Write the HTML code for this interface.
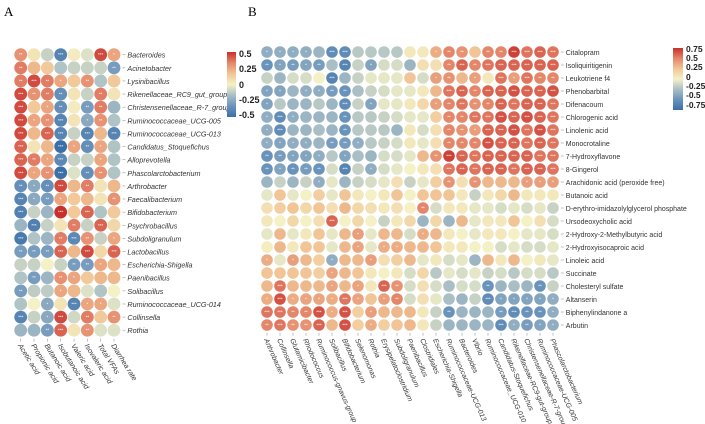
<!DOCTYPE html>
<html><head><meta charset="utf-8"><style>
body{margin:0;background:#fff;}
svg{display:block;font-family:"Liberation Sans",sans-serif;}
</style></head><body>
<svg id="chart" width="705" height="424" viewBox="0 0 705 424" xmlns="http://www.w3.org/2000/svg">
<defs>
<linearGradient id="cbar" x1="0" y1="0" x2="0" y2="1">
<stop offset="0" stop-color="#c9302c"/><stop offset="0.167" stop-color="#e4866a"/><stop offset="0.333" stop-color="#f1c596"/><stop offset="0.5" stop-color="#f4f1c6"/><stop offset="0.667" stop-color="#a9bec5"/><stop offset="0.833" stop-color="#6a93bb"/><stop offset="1" stop-color="#3b6fa8"/>
</linearGradient>
</defs>
<text x="4" y="16" font-size="13" font-family="Liberation Serif">A</text>
<text x="248" y="16" font-size="13" font-family="Liberation Serif">B</text>
<g id="panelA"></g>
<g id="panelB"></g>
<g>
<rect x="227" y="52" width="9" height="65" fill="url(#cbar)"/>
<g font-size="9" font-weight="bold" fill="#222">
<text x="239" y="57">0.5</text><text x="239" y="72">0.25</text><text x="239" y="88">0</text><text x="239" y="103">-0.25</text><text x="239" y="118">-0.5</text>
</g></g>
<g>
<rect x="673" y="48" width="10" height="62" fill="url(#cbar)"/>
<g font-size="8.5" font-weight="bold" fill="#222">
<text x="686" y="52">0.75</text><text x="686" y="61">0.5</text><text x="686" y="70">0.25</text><text x="686" y="80">0</text><text x="686" y="89">-0.25</text><text x="686" y="98">-0.5</text><text x="686" y="108">-0.75</text>
</g></g>
</svg>
<script>
const aRows=["Bacteroides","Acinetobacter","Lysinibacillus","Rikenellaceae_RC9_gut_group","Christensenellaceae_R-7_group","Ruminococcaceae_UCG-005","Ruminococcaceae_UCG-013","Candidatus_Stoquefichus","Alloprevotella","Phascolarctobacterium","Arthrobacter","Faecalibacterium","Bifidobacterium","Psychrobacillus","Subdoligranulum","Lactobacillus","Escherichia-Shigella","Paenibacillus","Solibacillus","Ruminococcaceae_UCG-014","Collinsella","Rothia"];
const aCols=["Acetic acid","Propionic acid","Butanoic acid","Isobutanoic acid","Valeric acid","Isovaleric acid","Total VFAs","Diarrhea rate"];
const aVals=[
[0.3,0.05,-0.1,-0.4,0.02,-0.05,0.45,0.25],
[0.35,0.2,0.15,-0.15,-0.1,-0.1,-0.1,-0.3],
[0.35,0.45,0.35,0.25,0.15,0.3,-0.15,0.15],
[0.45,0.3,0.35,-0.35,0.05,-0.1,0.35,0.05],
[0.45,0.15,0.25,-0.35,0.02,-0.3,0.35,-0.2],
[0.45,0.25,0.3,-0.4,0.05,-0.25,0.3,-0.15],
[0.45,0.2,0.4,-0.4,-0.1,-0.4,0.2,-0.4],
[0.4,0.05,0.2,-0.5,0.25,-0.35,0.25,-0.15],
[0.4,0.35,0.25,-0.38,-0.1,-0.1,0.25,-0.15],
[0.45,0.25,0.3,-0.5,-0.05,-0.35,0.3,-0.15],
[-0.35,-0.25,-0.35,0.45,0.2,0.35,0.05,0.2],
[-0.4,-0.25,-0.3,0.25,0.15,0.2,0.05,0.3],
[-0.42,-0.1,-0.2,0.5,0.15,0.4,-0.15,0.15],
[-0.2,-0.42,-0.1,0.05,0.35,-0.1,0.4,0.1],
[-0.45,-0.15,-0.2,0.35,-0.38,0.3,-0.1,0.25],
[-0.3,-0.3,-0.3,0.4,0.2,0.45,0.1,0.4],
[-0.1,-0.1,0.0,-0.1,-0.3,-0.3,0.25,0.2],
[-0.15,-0.3,-0.2,0.3,0.25,0.15,0.2,0.2],
[-0.3,-0.12,-0.12,0.25,0.2,-0.05,-0.15,0.0],
[-0.15,0.0,-0.25,0.05,-0.4,0.25,0.25,-0.05],
[-0.4,-0.1,-0.25,0.45,-0.08,0.35,0.15,0.3],
[-0.2,-0.2,-0.3,0.4,0.05,0.3,-0.05,-0.05]];
const bRows=["Citalopram","Isoliquiritigenin","Leukotriene f4","Phenobarbital","Difenacoum","Chlorogenic acid","Linolenic acid","Monocrotaline","7-Hydroxyflavone","8-Gingerol","Arachidonic acid (peroxide free)","Butanoic acid","D-erythro-imidazolylglycerol phosphate","Ursodeoxycholic acid","2-Hydroxy-2-Methylbutyric acid","2-Hydroxyisocaproic acid","Linoleic acid","Succinate","Cholesteryl sulfate","Altanserin","Biphenylindanone a","Arbutin"];
const bCols=["Arthrobacter","Collinsella","Glutamicibacter","Rhodococcus","Ruminococcus-gnavus-group","Solibacillus","Bifidobacterium","Selenomonas","Rothia","Erysipelatoclostridium","Subdoligranulum","Paenibacillus","Clostridiales","Escherichia-Shigella","Ruminococcaceae-UCG-013","Bacteroides","Vibrio","Ruminococcaceae_UCG-010","Candidatus-Stoquefichus","Rikenellaceae-RC9-gut-group","Christensenellaceae-R-7-group","Ruminococcaceae-UCG-005","Phascolarctobacterium"];
const bVals=[
[-0.35,-0.35,-0.35,-0.35,-0.3,-0.55,-0.55,-0.2,-0.2,-0.2,-0.2,0.05,0.05,0.35,0.5,0.45,0.25,0.5,0.5,0.7,0.55,0.6,0.55],
[-0.5,-0.4,-0.45,-0.4,-0.45,-0.25,-0.6,-0.15,-0.4,-0.1,-0.1,-0.3,0.1,0.1,0.5,0.6,0.5,0.55,0.6,0.6,0.6,0.6,0.6],
[-0.15,-0.3,-0.1,-0.1,0.0,-0.6,-0.3,-0.15,-0.05,-0.05,-0.05,0.25,-0.1,0.4,0.45,0.3,0.4,0.05,0.55,0.4,0.55,0.5,0.5],
[-0.4,-0.4,-0.3,-0.35,-0.35,-0.45,-0.5,-0.25,-0.15,-0.1,-0.05,-0.05,0.05,0.3,0.55,0.6,0.5,0.6,0.6,0.65,0.6,0.6,0.65],
[-0.4,-0.2,-0.3,-0.3,-0.2,-0.3,-0.55,-0.15,-0.4,-0.05,-0.05,0.05,0.15,0.4,0.5,0.55,0.45,0.5,0.6,0.55,0.6,0.6,0.55],
[-0.35,-0.55,-0.35,-0.3,-0.3,-0.3,-0.5,-0.2,-0.2,-0.15,-0.1,-0.05,-0.05,0.2,0.5,0.5,0.55,0.55,0.65,0.6,0.65,0.6,0.55],
[-0.35,-0.55,-0.3,-0.3,-0.25,-0.3,-0.5,-0.2,-0.2,-0.2,-0.3,0.05,-0.1,0.1,0.5,0.45,0.4,0.6,0.6,0.65,0.55,0.65,0.55],
[-0.35,-0.4,-0.35,-0.35,-0.3,-0.45,-0.45,-0.35,-0.2,-0.15,-0.1,0.05,-0.05,0.1,0.5,0.5,0.5,0.65,0.6,0.6,0.55,0.6,0.55],
[-0.5,-0.45,-0.4,-0.4,-0.35,-0.2,-0.4,-0.25,-0.3,-0.1,-0.1,-0.05,0.3,0.45,0.7,0.6,0.55,0.6,0.6,0.6,0.6,0.55,0.55],
[-0.5,-0.4,-0.5,-0.45,-0.5,-0.1,-0.6,-0.15,-0.35,-0.1,-0.05,0.0,0.05,0.1,0.55,0.6,0.55,0.6,0.6,0.55,0.6,0.6,0.55],
[-0.3,-0.15,-0.3,-0.15,-0.35,-0.05,-0.3,-0.15,-0.1,-0.05,0.1,-0.15,-0.05,0.2,0.45,0.1,0.45,0.3,0.3,0.3,0.4,0.4,0.4],
[-0.05,0.25,-0.05,0.0,0.2,-0.05,0.25,0.05,0.0,0.05,0.25,0.0,0.25,0.25,0.25,0.05,-0.15,0.05,0.15,0.3,0.05,0.05,0.05],
[0.1,0.2,0.25,0.15,0.25,0.1,0.3,0.15,0.1,0.05,0.1,0.0,0.5,-0.1,0.05,0.05,-0.05,-0.05,-0.1,-0.05,-0.1,-0.05,-0.15],
[0.05,0.0,0.15,0.0,0.1,0.6,0.0,0.15,0.0,-0.15,0.05,0.15,-0.3,0.15,-0.3,0.3,-0.05,0.05,0.05,0.25,0.0,0.1,-0.1],
[-0.05,0.3,-0.05,0.05,0.25,-0.05,0.3,0.4,-0.05,0.3,0.3,-0.1,0.35,0.3,0.05,0.0,-0.05,0.05,0.05,0.0,-0.05,-0.05,-0.1],
[0.02,0.3,0.05,0.25,0.25,-0.05,0.3,0.38,-0.05,0.35,0.35,0.3,0.3,0.25,0.05,0.05,0.0,0.0,-0.1,-0.05,-0.1,-0.1,-0.05],
[0.35,-0.05,0.4,0.3,0.2,-0.35,0.3,0.3,0.4,0.1,0.2,0.3,-0.05,0.05,-0.1,-0.05,-0.3,0.3,0.05,0.3,0.0,0.05,-0.05],
[0.25,0.25,0.25,0.25,0.2,0.38,0.3,0.25,0.05,0.0,0.05,-0.1,0.15,-0.2,-0.05,-0.1,-0.05,-0.15,-0.1,-0.2,-0.1,-0.1,-0.2],
[0.3,0.55,0.3,0.3,0.3,0.38,0.3,0.38,0.05,0.6,0.45,-0.1,0.1,-0.1,-0.25,-0.1,-0.1,-0.5,-0.3,-0.25,-0.3,-0.5,-0.15],
[0.35,0.65,0.35,0.38,0.38,0.35,0.55,0.38,0.25,0.4,0.5,-0.1,0.1,-0.05,-0.25,-0.3,-0.15,-0.55,-0.4,-0.4,-0.4,-0.4,-0.35],
[0.55,0.55,0.5,0.5,0.65,0.35,0.65,0.2,0.4,0.3,0.3,0.3,0.05,-0.15,-0.5,-0.3,-0.3,-0.3,-0.45,-0.55,-0.5,-0.5,-0.35],
[0.5,0.55,0.45,0.45,0.6,0.3,0.65,0.2,0.35,0.2,0.25,0.3,0.05,-0.15,-0.3,-0.3,-0.3,-0.3,-0.55,-0.35,-0.45,-0.4,-0.35]];

const NS="http://www.w3.org/2000/svg";
const stops=[[-1,[59,111,168]],[-0.667,[106,147,187]],[-0.333,[169,190,197]],[0,[244,241,198]],[0.333,[241,197,150]],[0.667,[228,134,106]],[1,[201,48,44]]];
function color(t){t=Math.max(-1,Math.min(1,t));for(let i=0;i<stops.length-1;i++){const a=stops[i],b=stops[i+1];if(t<=b[0]){const f=(t-a[0])/(b[0]-a[0]);return"rgb("+a[1].map((c,k)=>Math.round(c+(b[1][k]-c)*f)).join(",")+")";}}return"rgb(201,48,44)";}
function mk(tag,attrs,parent){const e=document.createElementNS(NS,tag);for(const k in attrs)e.setAttribute(k,attrs[k]);parent.appendChild(e);return e;}
function stars(t){const a=Math.abs(t);return a>=0.72?"***":a>=0.58?"**":a>=0.46?"*":"";}
function draw(g,rows,cols,vals,o){
  const xs=c=>o.x0+c*o.dx, ys=r=>o.y0+r*o.dy;
  vals.forEach((row,r)=>row.forEach((v,c)=>{
    const t=v/o.max;
    const cir=mk("circle",{cx:xs(c),cy:ys(r),r:o.rad,fill:color(t)},g);
    
    
    const s=stars(t);
    if(s){const tx=mk("text",{x:xs(c),y:ys(r)+1.5,"font-size":4.5,fill:"#fff","text-anchor":"middle"},g);tx.textContent=s;
    
    }
  }));
  const lx=xs(cols.length-1)+o.rad+2;
  rows.forEach((n,r)=>{
    mk("line",{x1:lx,x2:lx+3,y1:ys(r),y2:ys(r),stroke:"#999","stroke-width":0.6},g);
    const tx=mk("text",{x:lx+5,y:ys(r)+3,"font-size":o.fs,fill:"#333","font-style":o.rowItalic?"italic":"normal"},g);
    tx.textContent=n;
    
    
  });
  const ly=ys(rows.length-1)+o.rad+2;
  cols.forEach((n,c)=>{
    mk("line",{x1:xs(c),x2:xs(c),y1:ly,y2:ly+3,stroke:"#999","stroke-width":0.6},g);
    const X=xs(c)-3,Y=ly+7;
    const tx=mk("text",{x:X,y:Y,"font-size":o.fs,fill:"#333","font-style":"italic",transform:"rotate("+o.ang+" "+X+" "+Y+")"},g);
    tx.textContent=n;
    
    
  });
}
draw(document.getElementById("panelA"),aRows,aCols,aVals,{p:"a",x0:20.7,dx:13.33,y0:54.7,dy:13.12,rad:6.4,max:0.5,fs:7.2,rowItalic:true,ang:58});
draw(document.getElementById("panelB"),bRows,bCols,bVals,{p:"b",x0:267,dx:13,y0:52,dy:13,rad:5.8,max:0.75,fs:7,rowItalic:false,ang:66});
</script>
</body></html>
